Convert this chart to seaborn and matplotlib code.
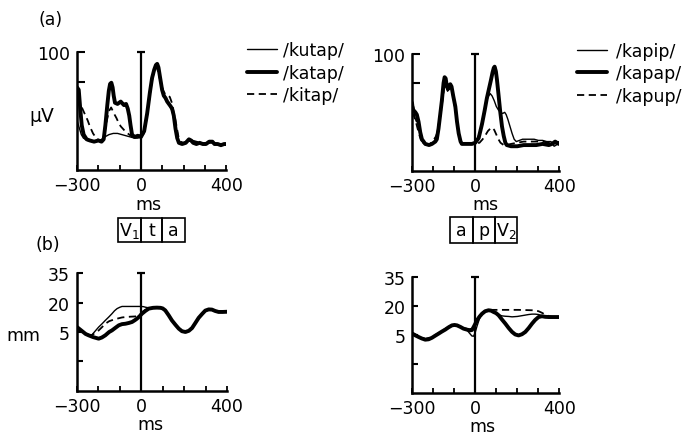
import matplotlib
matplotlib.use("Agg")
import matplotlib.pyplot as plt
import matplotlib.transforms as mtransforms
from matplotlib.patches import Rectangle
import pandas as pd
import seaborn as sns

# ---------------- (a) EMG, left: /kutap/ /katap/ /kitap/ ----------------
kutap_uv_t = [-300, -290, -280, -270, -250, -230, -210, -190, -170, -150, -130, -110, -90, -70, -50,
              -30, -15, 0, 15, 29, 42, 52, 62, 70, 76, 85, 95, 105, 115, 125,
              135, 146, 155, 163, 172, 185, 200, 220, 240, 260, 280, 300, 320, 340, 360, 380, 400]
kutap_uv = [42, 36, 30, 27, 25, 24, 24, 25, 28, 30, 31, 31, 30, 29, 28,
            27, 27, 28, 31, 45, 63, 76, 84, 88, 89, 84, 74, 66, 62, 58,
            54, 50, 42, 32, 25, 23, 23, 25, 25, 23, 22, 23, 23, 23, 22, 22, 21]

katap_uv_t = [-300, -292, -285, -278, -269, -255, -240, -220, -200, -185, -175, -167, -158, -151, -145,
              -139, -133, -128, -122, -110, -95, -80, -70, -62, -55, -49, -42, -30, -15, 0,
              15, 29, 42, 52, 62, 70, 76, 82, 90, 99, 107, 115, 123, 131, 139,
              146, 154, 162, 170, 178, 193, 210, 225, 235, 245, 260, 275, 290, 305, 320,
              335, 345, 360, 375, 390, 400]
katap_uv = [70, 68, 52, 38, 30, 26, 25, 24, 25, 24, 26, 38, 55, 67, 73,
            74, 70, 63, 57, 56, 58, 55, 56, 52, 46, 38, 30, 28, 29, 28,
            33, 48, 66, 78, 85, 89, 90, 87, 78, 68, 63, 61, 58, 56, 54,
            52, 46, 35, 27, 23, 22, 23, 26, 25, 23, 22, 23, 22, 22, 24,
            24, 22, 22, 21, 22, 22]

kitap_uv_t = [-300, -290, -280, -270, -260, -250, -240, -225, -210, -195, -180, -170, -160, -150, -140,
              -132, -124, -115, -105, -95, -85, -70, -55, -40, -20, 0, 15, 29, 42, 52,
              62, 70, 76, 85, 95, 105, 115, 125, 135, 145, 152, 160, 168, 176, 185,
              200, 220, 240, 260, 280, 300, 320, 340, 360, 380, 400]
kitap_uv = [62, 58, 54, 50, 46, 42, 37, 31, 27, 25, 26, 32, 42, 50, 53,
            50, 47, 44, 40, 37, 35, 32, 30, 28, 28, 30, 34, 47, 64, 76,
            84, 87, 86, 80, 72, 67, 64, 63, 62, 57, 50, 44, 36, 28, 24,
            23, 24, 25, 24, 23, 22, 23, 23, 22, 22, 22]

# ---------------- (a) EMG, right: /kapip/ /kapap/ /kapup/ ----------------
kapip_uv_t = [-300, -295, -287, -280, -272, -265, -258, -250, -235, -215, -200, -190, -180, -170, -160,
              -150, -146, -140, -132, -124, -117, -110, -100, -90, -82, -75, -65, -40, -16, 0,
              20, 35, 50, 60, 71, 80, 90, 100, 110, 120, 130, 140, 147, 155, 165,
              175, 185, 195, 210, 225, 240, 260, 280, 300, 320, 340, 360, 375, 385, 397]
kapip_uv = [60, 58, 45, 42, 45, 38, 30, 24, 22, 23, 24, 27, 34, 46, 62,
            76, 77, 73, 68, 70, 72, 68, 58, 47, 35, 27, 23, 23, 23, 24,
            32, 45, 57, 63, 66, 64, 60, 55, 52, 50, 49, 50, 48, 44, 38,
            32, 27, 25, 26, 27, 27, 27, 27, 26, 26, 25, 25, 21, 22, 25]

kapap_uv_t = [-300, -295, -285, -278, -270, -262, -254, -238, -220, -206, -190, -183, -175, -167, -159,
              -151, -146, -141, -135, -130, -124, -119, -113, -105, -95, -87, -79, -70, -64, -40,
              -16, 0, 16, 32, 45, 55, 65, 75, 82, 88, 92, 98, 103, 110, 119,
              127, 135, 143, 150, 170, 200, 230, 260, 290, 320, 350, 365, 380, 397]
kapap_uv = [55, 52, 50, 48, 42, 33, 27, 23, 22, 23, 25, 27, 36, 48, 60,
            75, 80, 79, 72, 70, 72, 74, 72, 64, 55, 42, 32, 25, 23, 23,
            23, 24, 28, 40, 52, 62, 70, 78, 84, 88, 89, 85, 78, 66, 50,
            38, 30, 24, 22, 21, 21, 22, 22, 22, 23, 22, 23, 25, 23]

kapup_uv_t = [-300, -290, -280, -270, -260, -250, -235, -215, -200, -185, -175, -165, -155, -147, -140,
              -132, -124, -115, -105, -95, -85, -75, -65, -40, -16, 0, 20, 35, 50, 60,
              71, 80, 90, 100, 110, 120, 135, 150, 170, 200, 230, 260, 290, 320, 350, 375, 397]
kapup_uv = [50, 46, 40, 33, 27, 24, 22, 23, 26, 30, 38, 48, 62, 72, 74,
            69, 70, 71, 63, 52, 38, 28, 23, 23, 23, 23, 24, 27, 31, 34,
            36, 37, 35, 31, 27, 24, 22, 22, 23, 24, 25, 25, 25, 25, 24, 23, 24]

# ---------------- (b) movement, left ----------------
kutap_mm_t = [-300, -292, -270, -250, -238, -230, -215, -199, -183, -168, -152, -137, -125, -113, -100,
              -90, -60, -30, -4, 10, 20, 35, 55, 73, 90, 100, 112, 128, 143, 160,
              175, 190, 206, 222, 237, 252, 268, 285, 299, 315, 330, 345, 361, 380, 400]
kutap_mm = [7.0, 6.7, 5.0, 3.8, 3.3, 3.6, 5.5, 7.5, 9.2, 10.9, 12.6, 14.3, 15.8, 16.9, 17.6,
            18.0, 18.0, 18.0, 18.0, 17.9, 17.6, 17.3, 17.4, 17.5, 17.3, 17.0, 16.0, 13.6, 11.0, 8.7,
            6.8, 5.5, 5.1, 5.7, 7.1, 9.6, 12.3, 14.4, 16.0, 16.6, 16.5, 15.8, 15.3, 15.3, 15.4]

katap_mm_t = [-300, -277, -260, -246, -225, -199, -184, -168, -150, -137, -120, -105, -90, -74, -58,
              -43, -30, -20, -8, 3, 20, 35, 55, 73, 90, 100, 112, 128, 143, 160,
              175, 190, 206, 222, 237, 252, 268, 285, 299, 315, 330, 345, 361, 380, 400]
katap_mm = [7.5, 5.5, 4.0, 3.3, 2.4, 1.6, 2.2, 3.3, 5.0, 5.8, 7.2, 8.4, 9.0, 9.2, 9.6,
            10.1, 11.0, 11.8, 13.0, 14.3, 15.8, 16.9, 17.3, 17.4, 17.3, 17.0, 16.0, 13.5, 10.9, 8.6,
            6.7, 5.4, 5.0, 5.6, 7.0, 9.5, 12.2, 14.3, 15.9, 16.5, 16.4, 15.7, 15.2, 15.2, 15.3]

kitap_mm_t = [-300, -270, -246, -230, -215, -199, -183, -168, -150, -137, -120, -105, -90, -74, -50,
              -30, -20, -8, 3, 20, 35, 55, 73, 90, 100, 112, 128, 143, 160, 175,
              190, 206, 222, 237, 252, 268, 285, 299, 315, 330, 345, 361, 380, 400]
kitap_mm = [6.5, 4.8, 3.6, 3.5, 4.5, 5.8, 7.5, 9.2, 10.5, 11.0, 11.6, 12.0, 12.4, 12.6, 12.8,
            12.9, 13.0, 13.5, 15.0, 16.3, 17.1, 17.4, 17.5, 17.4, 17.1, 16.1, 13.6, 11.0, 8.7, 6.8,
            5.5, 5.0, 5.6, 7.0, 9.5, 12.2, 14.3, 15.9, 16.5, 16.4, 15.7, 15.2, 15.2, 15.3]

# ---------------- (b) movement, right ----------------
kapip_mm_t = [-300, -285, -270, -254, -238, -222, -206, -190, -175, -159, -143, -127, -111, -99, -87,
              -71, -56, -40, -24, -16, -8, 0, 8, 20, 32, 47, 63, 75, 87, 99,
              111, 127, 143, 159, 175, 200, 222, 238, 254, 270, 285, 301, 317, 333, 350, 400]
kapip_mm = [5.9, 5.0, 4.2, 3.4, 2.8, 3.0, 3.8, 4.9, 5.9, 7.0, 8.0, 9.2, 10.2, 10.4, 10.1,
            9.2, 8.4, 7.6, 5.5, 4.5, 4.4, 6.5, 9.5, 13.5, 16.0, 17.3, 17.8, 17.5, 16.9, 16.2,
            15.5, 14.9, 14.7, 14.6, 14.4, 14.6, 15.0, 15.3, 15.6, 15.8, 15.8, 15.6, 15.0, 14.5, 14.3, 14.3]

kapap_mm_t = [-300, -285, -270, -254, -238, -222, -206, -190, -175, -159, -143, -127, -111, -99, -87,
              -71, -56, -40, -24, -16, -8, 0, 8, 20, 32, 47, 63, 75, 87, 99,
              111, 127, 143, 159, 175, 190, 206, 222, 238, 254, 270, 285, 301, 317, 333,
              350, 365, 380, 400]
kapap_mm = [5.7, 4.8, 4.0, 3.2, 2.6, 2.8, 3.6, 4.7, 5.7, 6.8, 7.8, 9.0, 10.0, 10.2, 10.0,
            9.2, 8.3, 7.8, 7.4, 7.6, 9.1, 10.8, 12.6, 14.5, 16.0, 17.3, 17.8, 17.6, 16.9, 16.3,
            15.2, 13.0, 10.9, 8.6, 6.6, 5.3, 4.8, 5.4, 6.6, 8.6, 10.9, 12.8, 14.3, 14.7, 14.4,
            14.3, 14.3, 14.3, 14.3]

kapup_mm_t = [-300, -270, -238, -206, -175, -143, -111, -87, -56, -24, -8, 0, 8, 20, 32,
              47, 63, 87, 111, 143, 175, 206, 238, 270, 290, 301, 317, 333, 350, 365, 400]
kapup_mm = [6.2, 4.5, 3.0, 4.0, 6.0, 8.2, 10.3, 10.2, 8.6, 7.8, 8.8, 10.5, 12.3, 14.8, 16.4,
            17.5, 18.0, 18.0, 18.0, 18.0, 18.0, 18.0, 17.9, 17.8, 17.6, 17.3, 16.5, 15.5, 14.8, 14.4, 14.3]

# segment boxes under the EMG panels (boundaries in ms)
left_segments = ["V$_1$", "t", "a"]
left_bounds = [-110, 0, 100, 205]
right_segments = ["a", "p", "V$_2$"]
right_bounds = [-120, -10, 95, 200]

xticks = [-300, -200, -100, 0, 100, 200, 300, 400]
xticklabels = ["\u2212300", "", "", "0", "", "", "", "400"]

STYLES = {
    "thin": dict(linewidth=1.0, linestyle="-"),
    "thick": dict(linewidth=2.8, linestyle="-"),
    "dashed": dict(linewidth=1.3, linestyle=(0, (4, 2.5))),
}

sns.set_style("white")
plt.rcParams["font.family"] = ["DejaVu Sans"]
plt.rcParams["mathtext.fontset"] = "dejavusans"
plt.rcParams["text.color"] = "black"
plt.rcParams["axes.labelcolor"] = "black"
plt.rcParams["xtick.color"] = "black"
plt.rcParams["ytick.color"] = "black"
FS = 12.5


def draw_panel(ax, series, ylim, yticks, yticklabels, ytick_len):
    for label, t, v, kind in series:
        df = pd.DataFrame({"t": t, "v": v})
        sns.lineplot(data=df, x="t", y="v", ax=ax, color="black", label=label,
                     estimator=None, sort=False, **STYLES[kind])
    ax.set_xlim(-300, 400)
    ax.set_ylim(*ylim)
    ax.set_xticks(xticks)
    ax.set_xticklabels(xticklabels)
    ax.set_yticks(yticks)
    ax.set_yticklabels(yticklabels)
    ax.set_xlabel("")
    ax.set_ylabel("")
    for s in ["top", "right"]:
        ax.spines[s].set_visible(False)
    for s in ["left", "bottom"]:
        ax.spines[s].set_linewidth(1.8)
        ax.spines[s].set_color("black")
    ax.tick_params(axis="x", direction="in", length=3.5, width=1.3, pad=4.5,
                   labelsize=FS, bottom=True, colors="black")
    ax.tick_params(axis="y", direction="in", length=ytick_len, width=1.5, pad=5,
                   labelsize=FS, left=True, colors="black")
    # vertical reference line at 0 ms with a cap on top
    ax.axvline(0, color="black", lw=1.6)
    ax.plot([0], [ylim[1]], marker="_", ms=6, mew=1.6, color="black", clip_on=False)
    if ax.get_legend() is not None:
        ax.get_legend().remove()


def draw_legend(ax, anchor, textpad):
    handles, labels = ax.get_legend_handles_labels()
    leg = ax.legend(handles, labels, loc="upper left", bbox_to_anchor=anchor, frameon=False,
                    fontsize=FS, handlelength=1.7, handletextpad=textpad, labelspacing=0.25,
                    borderpad=0, borderaxespad=0)
    for txt in leg.get_texts():
        txt.set_color("black")


def draw_segments(ax, names, bounds, y0, y1):
    trans = mtransforms.blended_transform_factory(ax.transData, ax.transAxes)
    for name, a, b in zip(names, bounds[:-1], bounds[1:]):
        ax.add_patch(Rectangle((a, y1), b - a, y0 - y1, transform=trans, fill=False,
                               ec="black", lw=1.2, clip_on=False))
        ax.text((a + b) / 2, (y0 + y1) / 2, name, transform=trans, ha="center",
                va="center", fontsize=FS, color="black")


fig = plt.figure(figsize=(6.94, 4.35), dpi=100)
ax_tl = fig.add_axes([0.111, 0.607, 0.215, 0.271])
ax_tr = fig.add_axes([0.594, 0.605, 0.212, 0.269])
ax_bl = fig.add_axes([0.111, 0.099, 0.216, 0.271])
ax_br = fig.add_axes([0.594, 0.094, 0.212, 0.267])

draw_panel(ax_tl, [("/kutap/", kutap_uv_t, kutap_uv, "thin"),
                   ("/katap/", katap_uv_t, katap_uv, "thick"),
                   ("/kitap/", kitap_uv_t, kitap_uv, "dashed")],
           (0, 100), [75, 100], ["", "100"], 5.5)
draw_panel(ax_tr, [("/kapip/", kapip_uv_t, kapip_uv, "thin"),
                   ("/kapap/", kapap_uv_t, kapap_uv, "thick"),
                   ("/kapup/", kapup_uv_t, kapup_uv, "dashed")],
           (0, 100), [75, 100], ["", "100"], 5.5)
draw_panel(ax_bl, [("/kutap/", kutap_mm_t, kutap_mm, "thin"),
                   ("/katap/", katap_mm_t, katap_mm, "thick"),
                   ("/kitap/", kitap_mm_t, kitap_mm, "dashed")],
           (-25, 35), [-10, 5, 20, 35], ["", "5", "20", "35"], 4)
draw_panel(ax_br, [("/kapip/", kapip_mm_t, kapip_mm, "thin"),
                   ("/kapap/", kapap_mm_t, kapap_mm, "thick"),
                   ("/kapup/", kapup_mm_t, kapup_mm, "dashed")],
           (-25, 35), [-10, 5, 20, 35], ["", "5", "20", "35"], 4)

draw_legend(ax_tl, (1.14, 1.09), 0.35)
draw_legend(ax_tr, (1.12, 1.10), 0.55)

# axis labels
ax_tl.set_ylabel("\u03bcV", rotation=0, fontsize=FS + 1, ha="center", va="center")
ax_tl.yaxis.set_label_coords(-0.235, 0.466)
ax_bl.set_ylabel("mm", rotation=0, fontsize=FS, ha="center", va="center")
ax_bl.yaxis.set_label_coords(-0.36, 0.475)
for ax, (x, y) in [(ax_tl, (0.477, -0.288)), (ax_tr, (0.497, -0.282)),
                   (ax_bl, (0.49, -0.28)), (ax_br, (0.48, -0.285))]:
    ax.text(x, y, "ms", transform=ax.transAxes, ha="center", va="center",
            fontsize=FS, color="black")

draw_segments(ax_tl, left_segments, left_bounds, -0.405, -0.61)
draw_segments(ax_tr, right_segments, right_bounds, -0.395, -0.62)

fig.text(51 / 694, 1 - 20 / 435, "(a)", ha="center", va="center", fontsize=FS, color="black")
fig.text(48 / 694, 1 - 245 / 435, "(b)", ha="center", va="center", fontsize=FS, color="black")

fig.savefig("out.png", dpi=100)
